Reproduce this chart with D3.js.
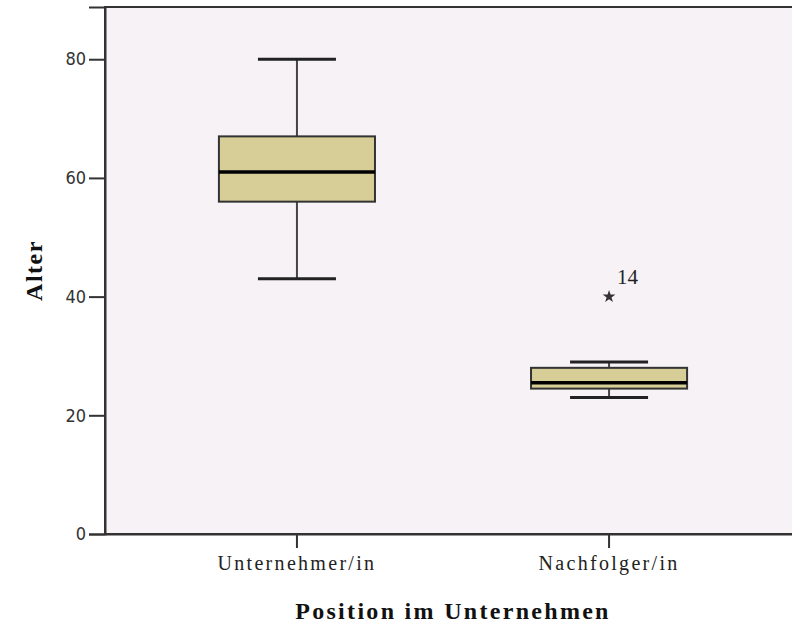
<!DOCTYPE html>
<html>
<head>
<meta charset="utf-8">
<script src="https://cdn.jsdelivr.net/npm/d3@7"></script>
<style>
  body { margin: 0; background: #fff; }
  svg { display: block; }
</style>
</head>
<body>
<div id="chart"></div>
<script>
// categories and box statistics (Alter)
const categories = ["Unternehmer/in", "Nachfolger/in"];
const whiskerLow = [43, 23];
const q1 = [56, 24.5];
const median = [61, 25.5];
const q3 = [67, 28];
const whiskerHigh = [80, 29];
const outliers = [[], [{ value: 40, label: "14" }]];
const yTicks = [0, 20, 40, 60, 80];

const W = 792, H = 627;
const margin = { top: 7, left: 105 },
  plotRight = 801,
  plotBottom = 534;

const svg = d3.select("#chart")
  .append("svg")
  .attr("width", W)
  .attr("height", H);

// plot background
svg.append("rect")
  .attr("x", margin.left)
  .attr("y", margin.top)
  .attr("width", plotRight - margin.left)
  .attr("height", plotBottom - margin.top)
  .attr("fill", "#f6f2f6")
  .attr("stroke", "#333")
  .attr("stroke-width", 2);

const x = d3.scaleBand()
  .domain(categories)
  .range([margin.left, plotRight])
  .paddingInner(0)
  .paddingOuter(0.115);

const y = d3.scaleLinear()
  .domain([0, 88.8])
  .range([plotBottom, margin.top]);

const boxW = x.bandwidth() * 0.5;
const capW = x.bandwidth() * 0.25;

// Y axis
const yAxis = svg.append("g")
  .attr("transform", `translate(${margin.left},0)`)
  .call(d3.axisLeft(y).tickValues(yTicks).tickSize(16).tickPadding(3).tickFormat(d3.format("d")));
yAxis.select(".domain").attr("stroke", "#333").attr("stroke-width", 2);
yAxis.selectAll(".tick line").attr("stroke", "#333").attr("stroke-width", 2);
yAxis.selectAll("text")
  .attr("font-family", "DejaVu Sans Condensed, DejaVu Sans")
  .attr("font-stretch", "condensed")
  .attr("font-size", 18)
  .attr("fill", "#333");

// X axis
const xAxis = svg.append("g")
  .attr("transform", `translate(0,${plotBottom})`)
  .call(d3.axisBottom(x).tickSize(14).tickPadding(8).tickSizeOuter(0));
xAxis.select(".domain").attr("stroke", "#333").attr("stroke-width", 2);
xAxis.selectAll(".tick line").attr("stroke", "#333").attr("stroke-width", 2);
xAxis.selectAll("text")
  .attr("font-family", "Liberation Serif")
  .attr("font-size", 20)
  .attr("letter-spacing", 2.3)
  .attr("fill", "#222");

// boxes
const stats = categories.map((c, i) => ({
  cat: c, lo: whiskerLow[i], q1: q1[i], med: median[i], q3: q3[i], hi: whiskerHigh[i], out: outliers[i]
}));

const g = svg.append("g");
stats.forEach(d => {
  const cx = x(d.cat) + x.bandwidth() / 2;
  // whiskers
  g.append("line")
    .attr("x1", cx).attr("x2", cx)
    .attr("y1", y(d.hi)).attr("y2", y(d.q3))
    .attr("stroke", "#444").attr("stroke-width", 2);
  g.append("line")
    .attr("x1", cx).attr("x2", cx)
    .attr("y1", y(d.q1)).attr("y2", y(d.lo))
    .attr("stroke", "#444").attr("stroke-width", 2);
  [d.hi, d.lo].forEach(v => {
    g.append("line")
      .attr("x1", cx - capW / 2).attr("x2", cx + capW / 2)
      .attr("y1", y(v)).attr("y2", y(v))
      .attr("stroke", "#222").attr("stroke-width", 3);
  });
  // box
  g.append("rect")
    .attr("x", cx - boxW / 2)
    .attr("y", y(d.q3))
    .attr("width", boxW)
    .attr("height", y(d.q1) - y(d.q3))
    .attr("fill", "#d6ce96")
    .attr("stroke", "#333")
    .attr("stroke-width", 2);
  // median
  g.append("line")
    .attr("x1", cx - boxW / 2).attr("x2", cx + boxW / 2)
    .attr("y1", y(d.med)).attr("y2", y(d.med))
    .attr("stroke", "#000").attr("stroke-width", 3.5);
  // outliers
  d.out.forEach(o => {
    g.append("path")
      .attr("d", d3.symbol(d3.symbolStar, 50)())
      .attr("transform", `translate(${cx},${y(o.value)})`)
      .attr("fill", "#333");
    g.append("text")
      .attr("x", cx + 8)
      .attr("y", y(o.value) - 13)
      .attr("font-family", "Liberation Serif")
      .attr("font-size", 21)
      .attr("fill", "#222")
      .text(o.label);
  });
});

// axis titles
svg.append("text")
  .attr("transform", `translate(42,${(margin.top + plotBottom) / 2}) rotate(-90)`)
  .attr("text-anchor", "middle")
  .attr("font-family", "Liberation Serif")
  .attr("font-weight", "bold")
  .attr("font-size", 24)
  .attr("letter-spacing", 1.5)
  .attr("fill", "#111")
  .text("Alter");

svg.append("text")
  .attr("x", 453)
  .attr("y", 619)
  .attr("text-anchor", "middle")
  .attr("font-family", "Liberation Serif")
  .attr("font-weight", "bold")
  .attr("font-size", 24)
  .attr("letter-spacing", 2.3)
  .attr("fill", "#111")
  .text("Position im Unternehmen");
</script>
</body>
</html>
